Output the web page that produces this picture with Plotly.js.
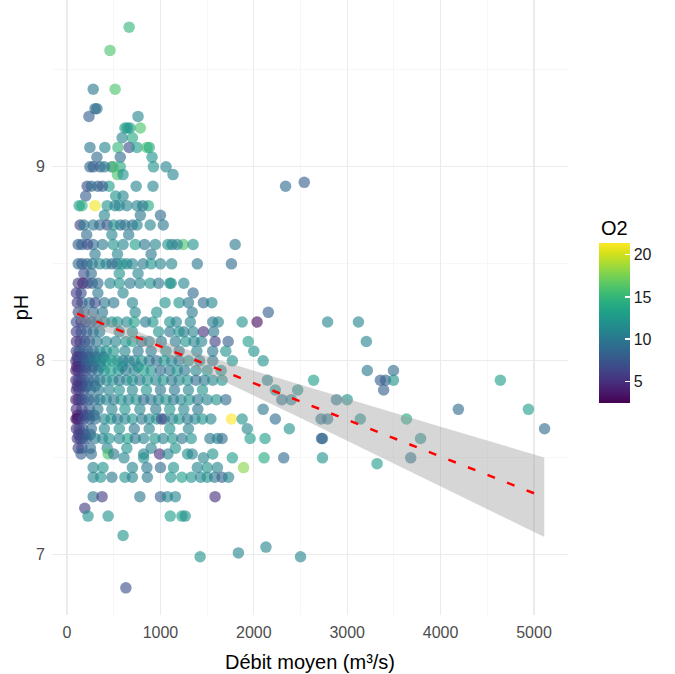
<!DOCTYPE html>
<html>
<head>
<meta charset="utf-8">
<script src="https://cdn.plot.ly/plotly-3.0.1.min.js"></script>
<style>html,body{margin:0;padding:0;background:#fff;}#chart{width:675px;height:674px;}</style>
</head>
<body>
<div id="chart"></div>
<script>
// pH levels (rows) with the débit (m3/s) and O2 of each point on that row
const phLevels = [9.72, 9.6, 9.4, 9.3, 9.26, 9.2, 9.15, 9.1, 9.05, 9.0, 8.96, 8.9, 8.92, 8.85, 8.8, 8.75, 8.7, 8.65, 8.6, 8.55, 8.5, 8.45, 8.4, 8.35, 8.3, 8.25, 8.2, 8.15, 8.1, 8.05, 8.02, 8.0, 7.97, 7.95, 7.9, 7.87, 7.85, 7.8, 7.75, 7.72, 7.7, 7.65, 7.62, 7.6, 7.55, 7.52, 7.5, 7.47, 7.45, 7.4, 7.3, 7.24, 7.2, 7.1, 7.04, 7.01, 6.99, 6.83];
const debitByLevel = [
  [665],
  [460],
  [280, 515],
  [320, 300],
  [235, 760],
  [675, 785, 645, 620],
  [700, 590],
  [245, 405, 545, 665, 750, 855, 880],
  [320, 910, 570],
  [245, 355, 480, 570, 495, 1060, 925, 400, 280],
  [1135, 540, 600],
  [215, 330, 450, 740, 920, 260, 380, 2340],
  [2540],
  [600, 520, 200],
  [160, 300, 430, 515, 750, 870, 560, 130, 640, 810],
  [785, 400, 1000],
  [140, 280, 430, 570, 700, 890, 750, 180, 350, 500, 620, 1030],
  [210, 480, 660],
  [160, 280, 495, 730, 945, 1125, 1245, 1350, 1800, 120, 220, 380, 600, 830, 1080, 1180],
  [300, 540, 900],
  [215, 350, 535, 640, 815, 1000, 1395, 1760, 120, 160, 270, 420, 480, 590, 700, 900, 1120],
  [180, 260, 560, 760],
  [170, 120, 220, 270, 460, 675, 890, 1100, 1115, 330, 560, 780, 980, 1250],
  [150, 330, 600, 1350, 100],
  [160, 240, 400, 500, 1460, 1550, 700, 1050, 1200, 1300, 300, 110],
  [120, 180, 280, 730, 2155, 1340, 380, 960],
  [100, 150, 200, 260, 320, 400, 480, 540, 640, 720, 840, 920, 1100, 1170, 1320, 1560, 2035, 2790, 3120, 1875, 1620],
  [100, 150, 210, 280, 350, 560, 700, 980, 1100, 1250, 1350, 1460, 1570, 1200],
  [100, 140, 190, 240, 320, 520, 630, 800, 880, 1010, 1160, 1270, 1360, 1440, 1585, 1725, 1940, 3205, 700, 420],
  [100, 130, 170, 220, 280, 350, 420, 500, 620, 760, 900, 1060, 1200, 1390, 1560, 1700, 2000],
  [110, 165, 240, 310, 390],
  [95, 120, 150, 180, 220, 260, 300, 360, 420, 480, 540, 600, 660, 720, 800, 880, 960, 1040, 1120, 1200, 1300, 1420, 1560, 1770, 2100],
  [105, 140, 200, 275, 360, 590, 760],
  [95, 120, 160, 200, 260, 330, 400, 470, 550, 630, 720, 820, 900, 1000, 1100, 1180, 1260, 1380, 1500, 1650, 3215, 3495],
  [95, 120, 150, 180, 230, 290, 350, 420, 490, 560, 640, 700, 780, 860, 950, 1030, 1120, 1200, 1290, 1380, 1470, 1560, 1660, 2145, 2640, 3355, 3410, 3495, 4640],
  [110, 160, 215, 300],
  [100, 130, 180, 250, 340, 450, 560, 700, 850, 1000, 1150, 1300, 1450, 2230, 2470, 3390],
  [95, 120, 150, 180, 230, 290, 350, 420, 500, 580, 660, 740, 820, 900, 980, 1060, 1140, 1220, 1310, 1400, 1500, 1600, 1700, 2300, 2400, 2885, 3000],
  [100, 160, 240, 330, 480, 620, 780, 950, 1100, 1250, 1400, 2100, 4190, 4940],
  [115, 170, 230, 290],
  [95, 110, 140, 180, 240, 300, 400, 470, 540, 620, 700, 800, 880, 960, 1040, 1130, 1200, 1290, 1370, 1450, 1540, 1760, 1875, 2230, 2720, 2790, 3140, 3635, 1010],
  [100, 130, 170, 260, 400, 560, 720, 880, 1100, 1300, 1930, 2380, 5113],
  [125, 190, 250],
  [110, 140, 170, 210, 300, 380, 450, 560, 650, 730, 820, 940, 1030, 1130, 1230, 1330, 1530, 1610, 1660, 1960, 2120, 2735, 2725, 3785],
  [120, 160, 250, 430, 640, 900, 1160],
  [150, 260, 440, 500, 820, 990, 1080, 1290, 1340, 1560],
  [2110, 2320, 2735, 3680, 1460, 1770, 820, 610],
  [3320],
  [280, 385, 700, 855, 1000, 1140, 1395, 1500, 1610, 1890],
  [280, 360, 480, 620, 700, 860, 1110, 1330, 1430, 1500, 1580, 1660, 1730, 1230],
  [280, 375, 780, 1000, 1075, 1160, 1585],
  [190],
  [225, 440, 1105, 1230, 1265],
  [600],
  [2130],
  [1835],
  [1425, 2500],
  [630]
];
const o2ByLevel = [
  [15],
  [16],
  [10, 16],
  [10, 9],
  [8, 11],
  [13, 16, 12, 13],
  [14, 11],
  [10, 11, 15, 7, 13, 16, 14],
  [9, 12, 9],
  [9, 8, 9, 14, 16, 11, 12, 10, 8],
  [11, 16, 12],
  [7, 8, 13, 11, 11, 9, 8, 9],
  [8],
  [11, 12, 8],
  [15, 21, 12, 11, 11, 14, 11, 13, 11, 10],
  [10, 11, 9],
  [6, 10, 7, 9, 9, 11, 11, 10, 9, 12, 10, 10],
  [9, 11, 10],
  [9, 9, 12, 13, 11, 10, 16, 12, 10, 8, 7, 10, 11, 10, 12, 11],
  [10, 11, 10],
  [9, 11, 10, 11, 10, 11, 10, 9, 9, 8, 10, 11, 9, 12, 11, 12, 11],
  [7, 9, 12, 11],
  [2.5, 6, 7, 8, 11, 10, 12, 12, 12, 9, 12, 11, 10, 11],
  [7, 10, 11, 9, 6],
  [8, 9, 10, 10, 9, 11, 11, 12, 12, 10, 7, 6],
  [7, 8, 9, 11, 8, 10, 10, 12],
  [7, 6, 7, 8, 9, 11, 12, 12, 11, 13, 10, 12, 12, 11, 11, 10, 3, 11, 11, 12, 11],
  [6, 7, 8, 9, 10, 11, 12, 12, 10, 10, 11, 5, 10, 12],
  [5, 6, 7, 8, 10, 11, 12, 9, 11, 10, 10, 12, 11, 11, 6, 8, 13, 11, 13, 11],
  [6, 7, 8, 8, 9, 11, 12, 12, 11, 10, 10, 12, 10, 11, 10, 12, 12],
  [5, 7, 8, 9, 10],
  [5, 6, 7, 7, 8, 9, 10, 11, 12, 13, 12, 11, 10, 11, 12, 10, 9, 12, 11, 10, 12, 11, 10, 12, 12],
  [4, 6, 8, 9, 11, 12, 11],
  [4, 5, 6, 7, 8, 9, 12, 13, 12, 10, 11, 13, 12, 9, 10, 12, 10, 11, 12, 12, 10, 9],
  [5, 6, 6, 7, 8, 9, 10, 11, 12, 10, 11, 12, 10, 12, 11, 12, 10, 11, 12, 9, 10, 11, 12, 11, 13, 8, 8, 12, 13],
  [5, 6, 8, 9],
  [5, 6, 7, 9, 10, 11, 12, 11, 12, 10, 10, 11, 12, 12, 12, 8],
  [4, 5, 6, 7, 8, 9, 10, 11, 10, 12, 11, 12, 9, 10, 11, 12, 10, 11, 12, 10, 11, 12, 9, 10, 11, 10, 12],
  [5, 6, 8, 10, 11, 12, 11, 10, 12, 11, 10, 10, 9, 13],
  [4, 6, 7, 9],
  [4, 3, 5, 7, 8, 9, 11, 12, 10, 11, 12, 10, 11, 12, 9, 11, 12, 10, 11, 12, 11, 21.4, 12, 9, 10, 10, 12, 14, 7],
  [5, 6, 7, 9, 11, 12, 10, 11, 12, 11, 11, 12, 9],
  [6, 7, 9],
  [6, 6, 7, 8, 10, 11, 12, 11, 13, 10, 11, 12, 11, 12, 10, 12, 10, 11, 9, 13, 13, 10, 8, 12],
  [6, 7, 9, 11, 12, 11, 12],
  [8, 9, 16, 10, 11, 5, 11, 12, 11, 12],
  [14, 9, 12, 10, 11, 13, 12, 11],
  [13],
  [11, 12, 11, 10, 9, 12, 11, 12, 11, 18],
  [11, 12, 10, 12, 11, 10, 12, 12, 11, 12, 10, 8, 11, 13],
  [10, 6, 10, 8, 11, 11, 5],
  [6],
  [12, 12, 13, 13, 12],
  [12],
  [11],
  [11],
  [12, 11],
  [7]
];

// linear fit and its confidence band
const fitDebit = [107, 5110];
const fitPH = [8.243, 7.297];
const bandDebit = [107, 500, 1000, 1500, 2000, 2500, 3000, 3500, 4000, 4500, 5110];
const bandUpper = [8.287, 8.202, 8.105, 8.024, 7.949, 7.876, 7.804, 7.732, 7.660, 7.589, 7.502];
const bandLower = [8.199, 8.135, 8.042, 7.935, 7.821, 7.705, 7.588, 7.471, 7.354, 7.236, 7.092];

const xTicks = [0, 1000, 2000, 3000, 4000, 5000];
const yTicks = [7, 8, 9];
const o2Ticks = [5, 10, 15, 20];

const debit = [], ph = [], o2 = [];
phLevels.forEach((p, i) => {
  debitByLevel[i].forEach((d, j) => {
    debit.push(d); ph.push(p); o2.push(o2ByLevel[i][j]);
  });
});

const FONT = 'Liberation Sans, Arial, Helvetica, sans-serif';

const points = {
  type: 'scatter', mode: 'markers', x: debit, y: ph,
  marker: {
    size: 11.5, opacity: 0.62, color: o2, colorscale: 'Viridis',
    cmin: Math.min(...o2), cmax: Math.max(...o2), line: {width: 0},
    showscale: true,
    colorbar: {
      xref: 'container', x: 599/675, xanchor: 'left', xpad: 0,
      yref: 'container', y: 1 - 266/674, yanchor: 'top', ypad: 0,
      len: 160, lenmode: 'pixels', thickness: 31, thicknessmode: 'pixels',
      tickvals: o2Ticks, ticks: 'inside', tickcolor: '#ffffff', ticklen: 5, tickwidth: 1.5,
      outlinewidth: 0, tickfont: {size: 16, color: '#1A1A1A', family: FONT}
    }
  },
  hoverinfo: 'skip', showlegend: false
};

const band = {
  type: 'scatter', mode: 'lines',
  x: bandDebit.concat(bandDebit.slice().reverse()),
  y: bandUpper.concat(bandLower.slice().reverse()),
  fill: 'toself', fillcolor: 'rgba(153,153,153,0.4)', line: {width: 0},
  hoverinfo: 'skip', showlegend: false
};

const fit = {
  type: 'scatter', mode: 'lines', x: fitDebit, y: fitPH,
  line: {color: '#FF0000', width: 2.5, dash: '8px,13px'},
  hoverinfo: 'skip', showlegend: false
};

const layout = {
  width: 675, height: 674,
  paper_bgcolor: '#ffffff', plot_bgcolor: '#ffffff',
  margin: {l: 52, r: 107, t: 0, b: 59},
  font: {family: FONT},
  showlegend: false,
  annotations: [{
    text: 'O2', xref: 'paper', yref: 'paper', showarrow: false,
    x: (599 - 52) / 516, xanchor: 'left', y: (615 - 228) / 615, yanchor: 'middle',
    font: {size: 20, color: '#000000', family: FONT}
  }],
  xaxis: {
    range: [-161, 5364], tickvals: xTicks, ticktext: xTicks.map(String),
    showgrid: true, gridcolor: '#EBEBEB', gridwidth: 1.1,
    minor: {dtick: 500, tick0: 0, showgrid: true, gridcolor: '#F2F2F2', gridwidth: 0.6},
    zeroline: false, showline: false, ticks: '', ticklabelstandoff: 6,
    tickfont: {size: 16, color: '#4D4D4D', family: FONT},
    title: {text: 'Débit moyen (m³/s)', font: {size: 20, color: '#000000', family: FONT}, standoff: 14}
  },
  yaxis: {
    range: [6.69, 9.86], tickvals: yTicks, ticktext: yTicks.map(String),
    showgrid: true, gridcolor: '#EBEBEB', gridwidth: 1.1,
    minor: {dtick: 0.5, tick0: 0, showgrid: true, gridcolor: '#F2F2F2', gridwidth: 0.6},
    zeroline: false, showline: false, ticks: '', ticklabelstandoff: 6,
    tickfont: {size: 16, color: '#4D4D4D', family: FONT},
    title: {text: 'pH', font: {size: 20, color: '#000000', family: FONT}, standoff: 2}
  }
};

Plotly.newPlot('chart', [points, band, fit], layout, {staticPlot: true, displayModeBar: false});
</script>
</body>
</html>
